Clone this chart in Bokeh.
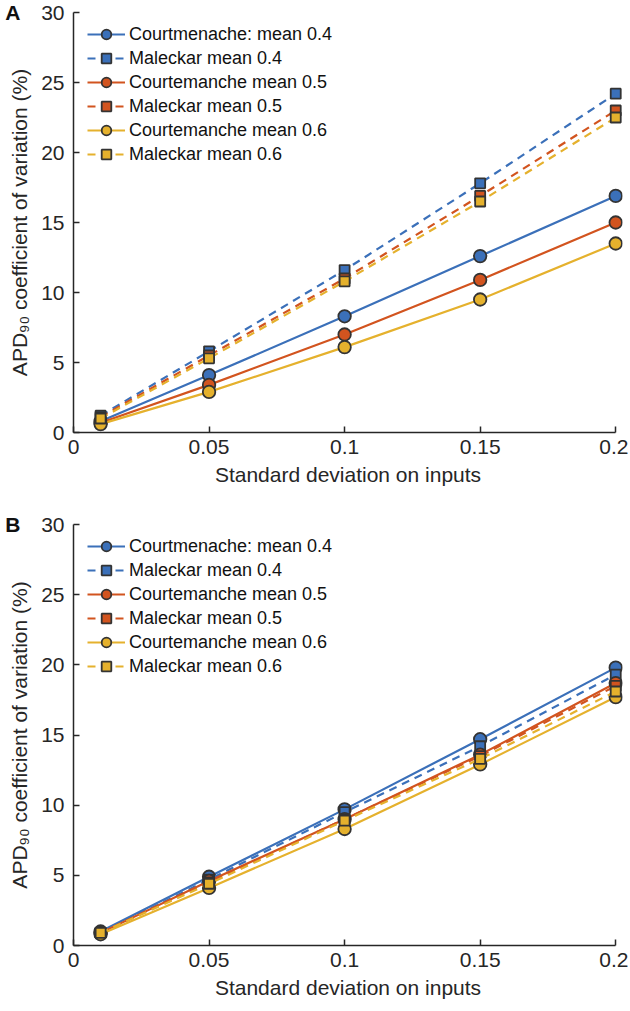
import numpy as np
from bokeh.plotting import figure
from bokeh.models import Legend, LegendItem, FixedTicker, Range1d, LinearAxis
from bokeh.layouts import column
from bokeh.embed import file_html
from bokeh.resources import INLINE

# ---------------- data ----------------
x_sd = [0.01, 0.05, 0.1, 0.15, 0.2]

series_names = [
    "Courtmenache: mean 0.4",
    "Maleckar mean 0.4",
    "Courtemanche mean 0.5",
    "Maleckar mean 0.5",
    "Courtemanche mean 0.6",
    "Maleckar mean 0.6",
]

# Panel A
a_court_04 = [0.8, 4.1, 8.3, 12.6, 16.9]
a_mal_04 = [1.2, 5.8, 11.6, 17.8, 24.2]
a_court_05 = [0.7, 3.4, 7.0, 10.9, 15.0]
a_mal_05 = [1.1, 5.5, 11.0, 16.9, 23.0]
a_court_06 = [0.6, 2.9, 6.1, 9.5, 13.5]
a_mal_06 = [1.0, 5.3, 10.8, 16.5, 22.5]

# Panel B
b_court_04 = [1.0, 4.9, 9.7, 14.7, 19.8]
b_mal_04 = [0.9, 4.7, 9.5, 14.2, 19.3]
b_court_05 = [0.9, 4.6, 9.0, 13.6, 18.7]
b_mal_05 = [0.9, 4.5, 9.0, 13.5, 18.5]
b_court_06 = [0.8, 4.1, 8.3, 12.9, 17.7]
b_mal_06 = [0.9, 4.4, 8.9, 13.3, 18.1]

x_ticks = [0, 0.05, 0.1, 0.15, 0.2]
x_tick_labels = ["0", "0.05", "0.1", "0.15", "0.2"]
y_ticks = [0, 5, 10, 15, 20, 25, 30]
y_tick_labels = ["0", "5", "10", "15", "20", "25", "30"]

x_title = "Standard deviation on inputs"
y_title = "APD\u2089\u2080 coefficient of variation (%)"
panel_letters = ["A", "B"]

# ---------------- styles ----------------
BLUE = "#3b70b9"
RED = "#d2541f"
YELLOW = "#e5b12d"
EDGE = "#333333"
AX = "#262626"
FONT = "Liberation Sans"

series_styles = [
    (BLUE, "solid", "circle"),
    (BLUE, "dashed", "square"),
    (RED, "solid", "circle"),
    (RED, "dashed", "square"),
    (YELLOW, "solid", "circle"),
    (YELLOW, "dashed", "square"),
]

LEFT = 73
RIGHT = 6
WIDTH = 628


def make_panel(letter, series, height, top_border, frame_h):
    p = figure(
        width=WIDTH,
        height=height,
        output_backend="svg",
        toolbar_location=None,
        x_range=Range1d(0, 0.2025),
        y_range=Range1d(0, 30),
        min_border_left=LEFT,
        min_border_right=RIGHT,
        min_border_top=top_border,
        min_border_bottom=height - top_border - frame_h,
    )
    p.outline_line_color = None
    p.xgrid.visible = False
    p.ygrid.visible = False
    p.background_fill_color = "white"

    items = []
    for name, ys, (col, dash, marker) in zip(series_names, series, series_styles):
        ln = p.line(x_sd, ys, line_color=col, line_width=2.2,
                    line_dash=("solid" if dash == "solid" else "8 6"))
        if marker == "circle":
            sc = p.scatter(x_sd, ys, marker="circle", size=12.5, fill_color=col,
                           line_color=EDGE, line_width=1.8)
        else:
            sc = p.scatter(x_sd, ys, marker="square", size=10, fill_color=col,
                           line_color=EDGE, line_width=1.8)
        items.append(LegendItem(label=name, renderers=[ln, sc]))

    legend = Legend(items=items, location=(14, frame_h - 10 - 6 * 24))
    legend.glyph_width = 38
    legend.glyph_height = 24
    legend.label_height = 24
    legend.spacing = 0
    legend.padding = 0
    legend.margin = 0
    legend.label_standoff = 4
    legend.label_text_font = FONT
    legend.label_text_font_size = "18px"
    legend.label_text_color = "#111111"
    legend.background_fill_alpha = 0
    legend.border_line_alpha = 0
    p.add_layout(legend, "center")

    for ax in (p.xaxis[0], p.yaxis[0]):
        ax.axis_line_color = AX
        ax.axis_line_width = 1.5
        ax.major_tick_line_color = AX
        ax.major_tick_line_width = 1.5
        ax.major_tick_in = 6
        ax.major_tick_out = 0
        ax.minor_tick_line_color = None
        ax.major_label_text_font = FONT
        ax.major_label_text_font_size = "21px"
        ax.major_label_text_color = AX
        ax.axis_label_text_font = FONT
        ax.axis_label_text_font_size = "21px"
        ax.axis_label_text_font_style = "normal"
        ax.axis_label_text_color = AX

    p.xaxis.ticker = FixedTicker(ticks=x_ticks)
    p.xaxis.major_label_overrides = {t: l for t, l in zip(x_ticks, x_tick_labels)}
    p.xaxis.bounds = (0, 0.2)
    p.xaxis.axis_label = x_title
    p.xaxis.major_label_standoff = 7
    p.xaxis.axis_label_standoff = 6

    p.yaxis.ticker = FixedTicker(ticks=y_ticks)
    p.yaxis.major_label_overrides = {t: l for t, l in zip(y_ticks, y_tick_labels)}
    p.yaxis.axis_label = y_title
    p.yaxis.major_label_standoff = 9
    p.yaxis.axis_label_standoff = 7

    # panel letter, drawn as the single label of an extra, invisible left axis
    let_ax = LinearAxis(
        ticker=FixedTicker(ticks=[30]),
        major_label_overrides={30: letter},
        axis_line_color=None,
        major_tick_line_color=None,
        minor_tick_line_color=None,
        major_tick_in=0,
        major_tick_out=0,
        major_label_standoff=-15,
        major_label_text_font=FONT,
        major_label_text_font_size="21px",
        major_label_text_font_style="bold",
        major_label_text_color="#111111",
    )
    p.add_layout(let_ax, "left")
    return p


pA = make_panel(panel_letters[0],
                [a_court_04, a_mal_04, a_court_05, a_mal_05, a_court_06, a_mal_06],
                height=512, top_border=12, frame_h=420)
pB = make_panel(panel_letters[1],
                [b_court_04, b_mal_04, b_court_05, b_mal_05, b_court_06, b_mal_06],
                height=496, top_border=12, frame_h=421)

layout = column(pA, pB, spacing=0)

with open("out.html", "w") as f:
    f.write(file_html(layout, INLINE))
